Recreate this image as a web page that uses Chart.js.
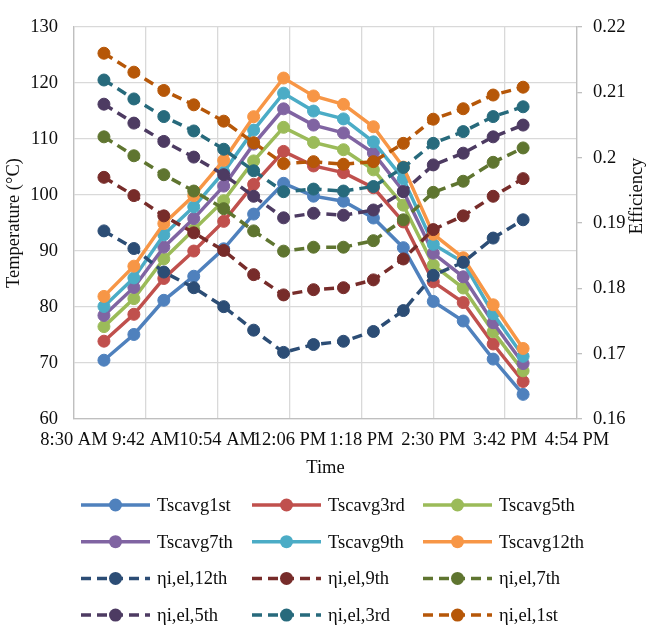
<!DOCTYPE html>
<html>
<head>
<meta charset="utf-8">
<script src="https://cdn.jsdelivr.net/npm/chart.js@4"></script>
<style>
  html, body { margin: 0; padding: 0; background: #fff; }
  #contenedor { width: 652px; height: 630px; }
</style>
</head>
<body>
<div id="contenedor"><canvas id="grafico" width="652" height="630"></canvas></div>
<script>
// horas de medicion
const horas = ['9:00 AM', '9:30 AM', '10:00 AM', '10:30 AM', '11:00 AM', '11:30 AM', '12:00 PM', '12:30 PM',
  '1:00 PM', '1:30 PM', '2:00 PM', '2:30 PM', '3:00 PM', '3:30 PM', '4:00 PM']

// temperaturas (°C)
const tscavg1st = [70.5, 75.1, 81.2, 85.5, 90.4, 96.6, 102.1, 99.8, 98.9, 95.9, 90.6, 81.0, 77.5, 70.7, 64.4]
const tscavg3rd = [73.9, 78.7, 85.1, 90.0, 95.3, 101.9, 107.8, 105.2, 104.0, 101.3, 95.2, 84.5, 80.8, 73.4, 66.7]
const tscavg5th = [76.5, 81.5, 88.6, 93.8, 99.0, 106.1, 112.1, 109.4, 108.1, 104.5, 98.2, 87.5, 83.4, 75.6, 68.6]
const tscavg7th = [78.5, 83.5, 90.7, 95.8, 101.6, 109.1, 115.4, 112.5, 111.1, 107.5, 100.7, 89.6, 85.4, 77.2, 69.9]
const tscavg9th = [80.1, 85.2, 92.9, 97.9, 104.1, 111.6, 118.2, 115.0, 113.6, 109.5, 102.9, 91.2, 88.0, 78.8, 71.2]
const tscavg12th = [81.9, 87.3, 94.9, 99.9, 106.2, 114.0, 120.9, 117.7, 116.2, 112.2, 105.0, 93.0, 88.8, 80.4, 72.6]

// eficiencias
const eta12th = [0.1888, 0.1861, 0.1825, 0.1801, 0.1772, 0.1736, 0.1702, 0.1714, 0.1719, 0.1734, 0.1766, 0.1820, 0.1840, 0.1877, 0.1905]
const eta9th = [0.1970, 0.1942, 0.1911, 0.1885, 0.1858, 0.1821, 0.1790, 0.1798, 0.1801, 0.1813, 0.1845, 0.1890, 0.1911, 0.1941, 0.1968]
const eta7th = [0.2032, 0.2003, 0.1974, 0.1949, 0.1922, 0.1888, 0.1857, 0.1863, 0.1863, 0.1873, 0.1905, 0.1947, 0.1964, 0.1993, 0.2015]
const eta5th = [0.2082, 0.2053, 0.2025, 0.2001, 0.1974, 0.1941, 0.1908, 0.1915, 0.1912, 0.1920, 0.1948, 0.1989, 0.2007, 0.2032, 0.2050]
const eta3rd = [0.2119, 0.2090, 0.2063, 0.2041, 0.2013, 0.1980, 0.1948, 0.1952, 0.1949, 0.1956, 0.1985, 0.2022, 0.2040, 0.2063, 0.2078]
const eta1st = [0.2160, 0.2131, 0.2103, 0.2081, 0.2056, 0.2023, 0.1991, 0.1994, 0.1990, 0.1994, 0.2022, 0.2059, 0.2075, 0.2096, 0.2108]

// ejes
const inicioEje = '8:30 AM'
const finEje = '4:54 PM'
const pasoEje = 72 // minutos entre marcas
const tempMin = 60, tempMax = 130, tempPaso = 10
const efMin = 0.16, efMax = 0.22, efPaso = 0.01

function aMinutos(txt) {
  let [hm, suf] = txt.split(' ')
  let [h, m] = hm.split(':').map(Number)
  if (suf == 'PM' && h != 12) h += 12
  if (suf == 'AM' && h == 12) h = 0
  return h * 60 + m
}

function aHora(min) {
  let h = Math.floor(min / 60), m = Math.round(min % 60)
  let suf = h >= 12 ? 'PM' : 'AM'
  let h12 = h % 12 == 0 ? 12 : h % 12
  return h12 + ':' + String(m).padStart(2, '0') + ' ' + suf
}

const minutos = horas.map(aMinutos)
const puntos = valores => valores.map((v, i) => ({ x: minutos[i], y: v }))

function serie(nombre, valores, color, eje, discontinua) {
  return {
    label: nombre,
    data: puntos(valores),
    yAxisID: eje,
    borderColor: color,
    backgroundColor: color,
    pointBackgroundColor: color,
    pointBorderColor: color,
    borderWidth: 3.5,
    borderDash: discontinua ? [10, 6] : [],
    pointRadius: 6,
    pointBorderWidth: 1,
    tension: 0,
    fill: false
  }
}

const series = [
  serie('Tscavg1st', tscavg1st, '#4F81BD', 'y', false),
  serie('Tscavg3rd', tscavg3rd, '#C0504D', 'y', false),
  serie('Tscavg5th', tscavg5th, '#9BBB59', 'y', false),
  serie('Tscavg7th', tscavg7th, '#8064A2', 'y', false),
  serie('Tscavg9th', tscavg9th, '#4BACC6', 'y', false),
  serie('Tscavg12th', tscavg12th, '#F79646', 'y', false),
  serie('ηi,el,12th', eta12th, '#2C4D75', 'y1', true),
  serie('ηi,el,9th', eta9th, '#772C2A', 'y1', true),
  serie('ηi,el,7th', eta7th, '#5F7530', 'y1', true),
  serie('ηi,el,5th', eta5th, '#4D3B62', 'y1', true),
  serie('ηi,el,3rd', eta3rd, '#276A7C', 'y1', true),
  serie('ηi,el,1st', eta1st, '#B65708', 'y1', true)
]
// las ultimas series quedan encima, como en Excel
series.forEach((s, i) => { s.order = series.length - i })

const fuente = "'Liberation Serif', 'Times New Roman', serif"
Chart.defaults.font.family = fuente
Chart.defaults.font.size = 18.5
Chart.defaults.color = '#0d0d0d'

// leyenda en 3 columnas y titulo del eje derecho
const leyenda = {
  id: 'leyenda',
  afterDraw(chart) {
    const ctx = chart.ctx
    ctx.save()
    ctx.font = '18.5px ' + fuente
    ctx.textBaseline = 'middle'
    ctx.fillStyle = '#0d0d0d'
    chart.data.datasets.forEach((ds, i) => {
      let x0 = 81 + (i % 3) * 171
      let y = 505 + Math.floor(i / 3) * 36.7
      ctx.strokeStyle = ds.borderColor
      ctx.lineWidth = 3.5
      ctx.setLineDash(ds.borderDash)
      ctx.beginPath()
      ctx.moveTo(x0, y)
      ctx.lineTo(x0 + 69, y)
      ctx.stroke()
      ctx.setLineDash([])
      ctx.fillStyle = ds.borderColor
      ctx.beginPath()
      ctx.arc(x0 + 34.5, y, 6.5, 0, Math.PI * 2)
      ctx.fill()
      ctx.fillStyle = '#0d0d0d'
      ctx.textAlign = 'left'
      ctx.fillText(ds.label, x0 + 76, y + 1)
    })
    ctx.translate(637, 196)
    ctx.rotate(-Math.PI / 2)
    ctx.textAlign = 'center'
    ctx.fillText('Efficiency', 0, 0)
    ctx.restore()
  }
}

const ctxGrafico = document.getElementById('grafico').getContext('2d')
const grafico = new Chart(ctxGrafico, {
  type: 'line',
  data: { datasets: series },
  options: {
    responsive: false,
    animation: false,
    devicePixelRatio: 1,
    layout: { padding: { top: 13, bottom: 148, left: 0, right: 0 } },
    plugins: {
      legend: { display: false },
      tooltip: { enabled: false }
    },
    scales: {
      x: {
        type: 'linear',
        min: aMinutos(inicioEje),
        max: aMinutos(finEje),
        grid: { color: '#d9d9d9', lineWidth: 1.3, drawTicks: false },
        border: { color: '#bfbfbf', width: 1.3 },
        ticks: {
          stepSize: pasoEje,
          autoSkip: false,
          maxRotation: 0,
          minRotation: 0,
          padding: 10,
          callback: v => aHora(v)
        },
        title: { display: true, text: 'Time', padding: { top: 0, bottom: 3 } },
        afterFit: s => { s.height = 63 }
      },
      y: {
        position: 'left',
        min: tempMin,
        max: tempMax,
        grid: { color: '#d9d9d9', lineWidth: 1.3, drawTicks: false },
        border: { color: '#bfbfbf', width: 1.3 },
        ticks: { stepSize: tempPaso, padding: 16 },
        title: { display: true, text: 'Temperature (°C)', padding: { top: 3, bottom: 0 } },
        afterFit: s => { s.width = 74 }
      },
      y1: {
        position: 'right',
        min: efMin,
        max: efMax,
        grid: { drawOnChartArea: false, color: '#bfbfbf', tickLength: 5, lineWidth: 1.3 },
        border: { color: '#bfbfbf', width: 1.3 },
        ticks: {
          stepSize: efPaso,
          padding: 11,
          callback: v => String(+v.toFixed(2))
        },
        afterFit: s => { s.width = 75 }
      }
    }
  },
  plugins: [leyenda]
})
</script>
</body>
</html>
